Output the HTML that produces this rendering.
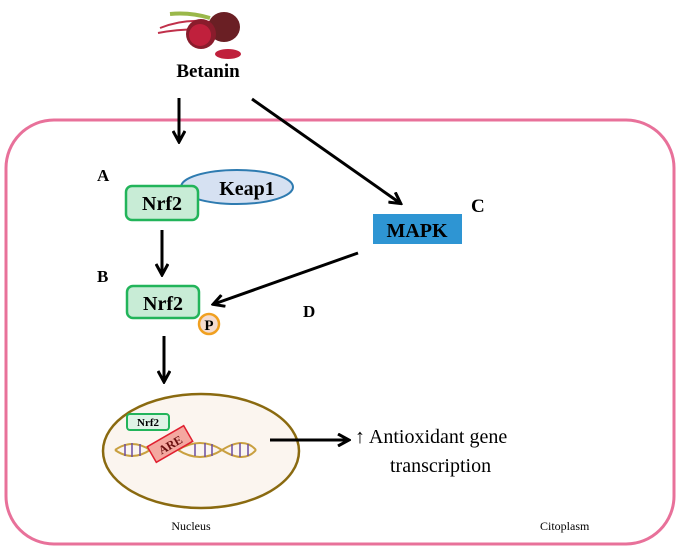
<!DOCTYPE html>
<html><head><meta charset="utf-8"><style>
html,body{margin:0;padding:0;background:#fff;}
svg{display:block;}
text{font-family:"Liberation Serif",serif;}
</style></head><body>
<svg width="684" height="551" viewBox="0 0 684 551" xmlns="http://www.w3.org/2000/svg">
<defs>
<marker id="ah" markerWidth="14" markerHeight="14" refX="11" refY="7" orient="auto" markerUnits="userSpaceOnUse">
<path d="M1,1 L12,7 L1,13" fill="none" stroke="#000" stroke-width="3"/>
</marker>
</defs>
<g>
<path d="M160,28 Q185,18 210,22" stroke="#c0304a" stroke-width="2" fill="none"/>
<path d="M158,33 Q185,28 210,30" stroke="#c0304a" stroke-width="2" fill="none"/>
<path d="M170,14 Q190,12 210,18" stroke="#9ab84a" stroke-width="4" fill="none"/>
<ellipse cx="224" cy="27" rx="16" ry="15" fill="#6a1f24"/>
<ellipse cx="201" cy="34" rx="15" ry="15" fill="#8a1c2c"/>
<ellipse cx="200" cy="35" rx="11" ry="11" fill="#c0203c"/>
<ellipse cx="228" cy="54" rx="13" ry="5" fill="#c0203c"/>
</g>
<text x="208" y="77" font-size="19" font-weight="bold" text-anchor="middle">Betanin</text>
<rect x="6" y="120" width="668" height="424" rx="48" ry="48" fill="none" stroke="#e8719a" stroke-width="3"/>
<line x1="179" y1="98" x2="179" y2="141" stroke="#000" stroke-width="3" marker-end="url(#ah)"/>
<line x1="252" y1="99" x2="400" y2="203" stroke="#000" stroke-width="3" marker-end="url(#ah)"/>
<line x1="162" y1="230" x2="162" y2="274" stroke="#000" stroke-width="3" marker-end="url(#ah)"/>
<line x1="358" y1="253" x2="214" y2="304" stroke="#000" stroke-width="3" marker-end="url(#ah)"/>
<line x1="164" y1="336" x2="164" y2="381" stroke="#000" stroke-width="3" marker-end="url(#ah)"/>
<text x="97" y="181" font-size="17" font-weight="bold">A</text>
<ellipse cx="237" cy="187" rx="56" ry="17" fill="#d6e1f2" stroke="#2e7bb0" stroke-width="2"/>
<text x="247" y="195" font-size="20" font-weight="bold" text-anchor="middle">Keap1</text>
<rect x="126" y="186" width="72" height="34" rx="6" fill="#c8ecd6" stroke="#22b45a" stroke-width="2.5"/>
<text x="162" y="210" font-size="20" font-weight="bold" text-anchor="middle">Nrf2</text>
<text x="97" y="282" font-size="17" font-weight="bold">B</text>
<rect x="127" y="286" width="72" height="32" rx="6" fill="#c8ecd6" stroke="#22b45a" stroke-width="2.5"/>
<text x="163" y="310" font-size="20" font-weight="bold" text-anchor="middle">Nrf2</text>
<circle cx="209" cy="324" r="10" fill="#f4dcd0" stroke="#f0a020" stroke-width="2.5"/>
<text x="209" y="330" font-size="15" font-weight="bold" text-anchor="middle">P</text>
<rect x="373" y="214" width="89" height="30" fill="#2e95d3"/>
<text x="417" y="237" font-size="20" font-weight="bold" text-anchor="middle">MAPK</text>
<text x="471" y="212" font-size="19" font-weight="bold">C</text>
<text x="303" y="317" font-size="17" font-weight="bold">D</text>
<ellipse cx="201" cy="451" rx="98" ry="57" fill="#fbf5ef" stroke="#8a6a10" stroke-width="2.5"/>
<line x1="270" y1="440" x2="348" y2="440" stroke="#000" stroke-width="3" marker-end="url(#ah)"/>
<g stroke-width="2" fill="none">
<path d="M115,450 Q132,438 150,450 M115,450 Q132,462 150,450" stroke="#c9a040"/>
<path d="M178,450 Q200,436 222,450 Q244,464 256,450 M178,450 Q200,464 222,450 Q244,436 256,450" stroke="#c9a040"/>
<g stroke="#6a4ca0" stroke-width="1.5">
<line x1="125" y1="444" x2="125" y2="456"/><line x1="132" y1="443" x2="132" y2="457"/><line x1="140" y1="444" x2="140" y2="456"/>
<line x1="195" y1="444" x2="195" y2="456"/><line x1="205" y1="443" x2="205" y2="457"/><line x1="212" y1="444" x2="212" y2="456"/>
<line x1="232" y1="444" x2="232" y2="456"/><line x1="240" y1="443" x2="240" y2="457"/><line x1="248" y1="444" x2="248" y2="456"/>
</g>
</g>
<rect x="127" y="414" width="42" height="16" rx="3" fill="#dff3e6" stroke="#22b45a" stroke-width="2"/>
<text x="148" y="426" font-size="11" font-weight="bold" text-anchor="middle">Nrf2</text>
<g transform="rotate(-30 170 444)">
<rect x="149" y="435" width="42" height="18" fill="#f4a8a0" stroke="#e02030" stroke-width="1.5"/>
<text x="170" y="449" font-size="12" font-weight="bold" text-anchor="middle" fill="#6a1010">ARE</text>
</g>
<text x="191" y="530" font-size="12" text-anchor="middle">Nucleus</text>
<text x="355" y="443" font-size="20">↑ Antioxidant gene</text>
<text x="390" y="472" font-size="20">transcription</text>
<text x="540" y="530" font-size="12">Citoplasm</text>
</svg>
</body></html>
